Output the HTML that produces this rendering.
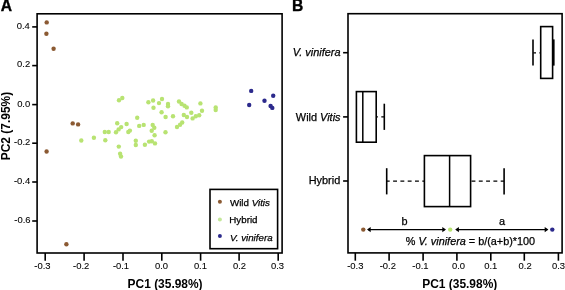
<!DOCTYPE html>
<html><head><meta charset="utf-8"><style>
html,body{margin:0;padding:0;background:#fff;}
svg{display:block;will-change:transform;}
text{font-family:'Liberation Sans', sans-serif;fill:#000;stroke:#000;stroke-width:0.25px;}
text.tk{stroke-width:0.08px;}
text[font-weight="bold"]{stroke-width:0;}
text.pl{stroke-width:0.35px;}
</style></head><body>
<svg width="565" height="290" viewBox="0 0 565 290">
<rect width="565" height="290" fill="#fff"/>
<rect x="37.1" y="13.8" width="245.0" height="239.2" fill="none" stroke="#000" stroke-width="1.6"/>
<line x1="32.2" y1="26.9" x2="37.1" y2="26.9" stroke="#000" stroke-width="1.6" />
<line x1="32.2" y1="65.6" x2="37.1" y2="65.6" stroke="#000" stroke-width="1.6" />
<line x1="32.2" y1="104.6" x2="37.1" y2="104.6" stroke="#000" stroke-width="1.6" />
<line x1="32.2" y1="143.2" x2="37.1" y2="143.2" stroke="#000" stroke-width="1.6" />
<line x1="32.2" y1="182.0" x2="37.1" y2="182.0" stroke="#000" stroke-width="1.6" />
<line x1="32.2" y1="221.0" x2="37.1" y2="221.0" stroke="#000" stroke-width="1.6" />
<line x1="45.2" y1="253.0" x2="45.2" y2="260.7" stroke="#000" stroke-width="1.6" />
<line x1="84.1" y1="253.0" x2="84.1" y2="260.7" stroke="#000" stroke-width="1.6" />
<line x1="123.0" y1="253.0" x2="123.0" y2="260.7" stroke="#000" stroke-width="1.6" />
<line x1="161.8" y1="253.0" x2="161.8" y2="260.7" stroke="#000" stroke-width="1.6" />
<line x1="200.6" y1="253.0" x2="200.6" y2="260.7" stroke="#000" stroke-width="1.6" />
<line x1="239.1" y1="253.0" x2="239.1" y2="260.7" stroke="#000" stroke-width="1.6" />
<line x1="278.2" y1="253.0" x2="278.2" y2="260.7" stroke="#000" stroke-width="1.6" />
<circle cx="119.0" cy="100.2" r="2.2" fill="#b8e372"/>
<circle cx="122.3" cy="98.0" r="2.2" fill="#b8e372"/>
<circle cx="148.4" cy="102.3" r="2.2" fill="#b8e372"/>
<circle cx="153.1" cy="100.5" r="2.2" fill="#b8e372"/>
<circle cx="159.0" cy="103.1" r="2.2" fill="#b8e372"/>
<circle cx="162.0" cy="99.0" r="2.2" fill="#b8e372"/>
<circle cx="168.0" cy="103.9" r="2.2" fill="#b8e372"/>
<circle cx="168.0" cy="106.3" r="2.2" fill="#b8e372"/>
<circle cx="153.5" cy="107.8" r="2.2" fill="#b8e372"/>
<circle cx="161.6" cy="112.3" r="2.2" fill="#b8e372"/>
<circle cx="179.0" cy="101.5" r="2.2" fill="#b8e372"/>
<circle cx="181.6" cy="104.0" r="2.2" fill="#b8e372"/>
<circle cx="184.5" cy="105.8" r="2.2" fill="#b8e372"/>
<circle cx="186.8" cy="107.4" r="2.2" fill="#b8e372"/>
<circle cx="200.4" cy="103.4" r="2.2" fill="#b8e372"/>
<circle cx="202.0" cy="110.7" r="2.2" fill="#b8e372"/>
<circle cx="215.7" cy="107.4" r="2.2" fill="#b8e372"/>
<circle cx="215.7" cy="110.0" r="2.2" fill="#b8e372"/>
<circle cx="173.0" cy="116.2" r="2.2" fill="#b8e372"/>
<circle cx="183.8" cy="115.0" r="2.2" fill="#b8e372"/>
<circle cx="187.0" cy="117.0" r="2.2" fill="#b8e372"/>
<circle cx="191.3" cy="112.8" r="2.2" fill="#b8e372"/>
<circle cx="192.6" cy="118.4" r="2.2" fill="#b8e372"/>
<circle cx="195.8" cy="116.3" r="2.2" fill="#b8e372"/>
<circle cx="199.2" cy="115.2" r="2.2" fill="#b8e372"/>
<circle cx="137.2" cy="117.8" r="2.2" fill="#b8e372"/>
<circle cx="165.6" cy="117.0" r="2.2" fill="#b8e372"/>
<circle cx="117.2" cy="123.3" r="2.2" fill="#b8e372"/>
<circle cx="126.6" cy="124.0" r="2.2" fill="#b8e372"/>
<circle cx="121.2" cy="127.1" r="2.2" fill="#b8e372"/>
<circle cx="118.6" cy="129.4" r="2.2" fill="#b8e372"/>
<circle cx="139.2" cy="125.9" r="2.2" fill="#b8e372"/>
<circle cx="143.7" cy="124.9" r="2.2" fill="#b8e372"/>
<circle cx="152.7" cy="124.9" r="2.2" fill="#b8e372"/>
<circle cx="154.3" cy="127.8" r="2.2" fill="#b8e372"/>
<circle cx="151.7" cy="130.7" r="2.2" fill="#b8e372"/>
<circle cx="154.6" cy="135.2" r="2.2" fill="#b8e372"/>
<circle cx="165.5" cy="132.2" r="2.2" fill="#b8e372"/>
<circle cx="116.0" cy="132.2" r="2.2" fill="#b8e372"/>
<circle cx="128.3" cy="132.0" r="2.2" fill="#b8e372"/>
<circle cx="129.9" cy="130.6" r="2.2" fill="#b8e372"/>
<circle cx="177.0" cy="127.0" r="2.2" fill="#b8e372"/>
<circle cx="180.1" cy="124.8" r="2.2" fill="#b8e372"/>
<circle cx="182.2" cy="122.5" r="2.2" fill="#b8e372"/>
<circle cx="104.8" cy="132.0" r="2.2" fill="#b8e372"/>
<circle cx="108.7" cy="132.0" r="2.2" fill="#b8e372"/>
<circle cx="81.3" cy="140.5" r="2.2" fill="#b8e372"/>
<circle cx="93.9" cy="137.8" r="2.2" fill="#b8e372"/>
<circle cx="105.3" cy="140.2" r="2.2" fill="#b8e372"/>
<circle cx="118.8" cy="146.6" r="2.2" fill="#b8e372"/>
<circle cx="120.1" cy="153.8" r="2.2" fill="#b8e372"/>
<circle cx="121.0" cy="156.5" r="2.2" fill="#b8e372"/>
<circle cx="135.8" cy="140.7" r="2.2" fill="#b8e372"/>
<circle cx="135.8" cy="145.0" r="2.2" fill="#b8e372"/>
<circle cx="144.9" cy="144.8" r="2.2" fill="#b8e372"/>
<circle cx="149.1" cy="141.6" r="2.2" fill="#b8e372"/>
<circle cx="151.8" cy="141.3" r="2.2" fill="#b8e372"/>
<circle cx="155.0" cy="143.4" r="2.2" fill="#b8e372"/>
<circle cx="46.7" cy="22.4" r="2.2" fill="#8b5a33"/>
<circle cx="46.4" cy="33.8" r="2.2" fill="#8b5a33"/>
<circle cx="53.6" cy="48.8" r="2.2" fill="#8b5a33"/>
<circle cx="72.7" cy="123.4" r="2.2" fill="#8b5a33"/>
<circle cx="78.1" cy="124.4" r="2.2" fill="#8b5a33"/>
<circle cx="46.6" cy="151.5" r="2.2" fill="#8b5a33"/>
<circle cx="66.4" cy="244.2" r="2.2" fill="#8b5a33"/>
<circle cx="251.2" cy="90.9" r="2.2" fill="#2c2a8c"/>
<circle cx="273.2" cy="95.7" r="2.2" fill="#2c2a8c"/>
<circle cx="264.5" cy="100.7" r="2.2" fill="#2c2a8c"/>
<circle cx="249.2" cy="105.0" r="2.2" fill="#2c2a8c"/>
<circle cx="270.6" cy="106.0" r="2.2" fill="#2c2a8c"/>
<circle cx="272.3" cy="107.9" r="2.2" fill="#2c2a8c"/>
<rect x="210.0" y="189.4" width="67.6" height="59.3" fill="#fff" stroke="#000" stroke-width="1.6"/>
<circle cx="219.9" cy="201.8" r="2.0" fill="#8b5a33"/>
<circle cx="219.9" cy="219.4" r="2.0" fill="#c4e79a"/>
<circle cx="219.9" cy="235.9" r="2.0" fill="#2c2a8c"/>
<rect x="348.0" y="13.7" width="214.1" height="239.2" fill="none" stroke="#000" stroke-width="1.6"/>
<line x1="355.3" y1="252.9" x2="355.3" y2="260.7" stroke="#000" stroke-width="1.6" />
<line x1="389.1" y1="252.9" x2="389.1" y2="260.7" stroke="#000" stroke-width="1.6" />
<line x1="423.1" y1="252.9" x2="423.1" y2="260.7" stroke="#000" stroke-width="1.6" />
<line x1="456.9" y1="252.9" x2="456.9" y2="260.7" stroke="#000" stroke-width="1.6" />
<line x1="490.8" y1="252.9" x2="490.8" y2="260.7" stroke="#000" stroke-width="1.6" />
<line x1="524.3" y1="252.9" x2="524.3" y2="260.7" stroke="#000" stroke-width="1.6" />
<line x1="558.4" y1="252.9" x2="558.4" y2="260.7" stroke="#000" stroke-width="1.6" />
<line x1="343.1" y1="52.7" x2="348.0" y2="52.7" stroke="#000" stroke-width="1.6" />
<line x1="343.1" y1="116.9" x2="348.0" y2="116.9" stroke="#000" stroke-width="1.6" />
<line x1="343.1" y1="181.0" x2="348.0" y2="181.0" stroke="#000" stroke-width="1.6" />
<line x1="533.3" y1="52.8" x2="540.4" y2="52.8" stroke="#000" stroke-width="1.3" stroke-dasharray="2.7,3.4"/>
<line x1="533.0" y1="39.6" x2="533.0" y2="65.4" stroke="#000" stroke-width="1.6" />
<rect x="540.7" y="26.6" width="11.9" height="51.8" fill="none" stroke="#000" stroke-width="1.6"/>
<rect x="552.0" y="39.4" width="2.6" height="26.2" fill="#000"/>
<rect x="356.4" y="91.6" width="19.8" height="50.6" fill="none" stroke="#000" stroke-width="1.6"/>
<line x1="362.8" y1="91.6" x2="362.8" y2="142.2" stroke="#000" stroke-width="1.5" />
<line x1="384.3" y1="116.9" x2="376.3" y2="116.9" stroke="#000" stroke-width="1.3" stroke-dasharray="3.0,3.4"/>
<line x1="384.3" y1="103.7" x2="384.3" y2="129.9" stroke="#000" stroke-width="1.6" />
<line x1="386.7" y1="181.2" x2="424.4" y2="181.2" stroke="#000" stroke-width="1.3" stroke-dasharray="3.9,3.4" stroke-dashoffset="0.9"/>
<line x1="504.1" y1="181.2" x2="470.8" y2="181.2" stroke="#000" stroke-width="1.3" stroke-dasharray="3.9,3.4" stroke-dashoffset="0.5"/>
<line x1="386.7" y1="168.2" x2="386.7" y2="194.4" stroke="#000" stroke-width="1.6" />
<line x1="504.1" y1="168.2" x2="504.1" y2="194.4" stroke="#000" stroke-width="1.6" />
<rect x="424.4" y="155.6" width="46.2" height="51.0" fill="none" stroke="#000" stroke-width="1.6"/>
<line x1="449.6" y1="155.6" x2="449.6" y2="206.6" stroke="#000" stroke-width="1.5" />
<circle cx="363.3" cy="229.6" r="2.2" fill="#8b5a33"/>
<circle cx="450.2" cy="229.6" r="2.2" fill="#b8e372"/>
<circle cx="552.3" cy="229.6" r="2.2" fill="#2c2a8c"/>
<line x1="368.0" y1="229.6" x2="445.0" y2="229.6" stroke="#000" stroke-width="1.25" />
<path d="M367.0,229.6 L370.7,227.0 L370.7,232.2 Z" fill="#000"/>
<path d="M446.0,229.6 L442.3,227.0 L442.3,232.2 Z" fill="#000"/>
<line x1="456.2" y1="229.6" x2="547.4" y2="229.6" stroke="#000" stroke-width="1.25" />
<path d="M455.2,229.6 L458.9,227.0 L458.9,232.2 Z" fill="#000"/>
<path d="M548.4,229.6 L544.6999999999999,227.0 L544.6999999999999,232.2 Z" fill="#000"/>
<text id="tA" class="pl" x="6.31" y="11.08" font-size="15.61" font-weight="bold" text-anchor="middle">A</text>
<text id="tB" class="pl" x="297.74" y="11.16" font-size="15.61" font-weight="bold" text-anchor="middle">B</text>
<text id="ax-0.3" class="tk" x="42.38" y="269.39" font-size="9.43" font-weight="normal" text-anchor="middle">-0.3</text>
<text id="ax-0.2" class="tk" x="81.17" y="269.34" font-size="9.43" font-weight="normal" text-anchor="middle">-0.2</text>
<text id="ax-0.1" class="tk" x="121.00" y="269.42" font-size="9.43" font-weight="normal" text-anchor="middle">-0.1</text>
<text id="ax0.0" class="tk" x="161.52" y="269.38" font-size="9.43" font-weight="normal" text-anchor="middle">0.0</text>
<text id="ax0.1" class="tk" x="200.44" y="269.40" font-size="9.43" font-weight="normal" text-anchor="middle">0.1</text>
<text id="ax0.2" class="tk" x="239.46" y="269.36" font-size="9.43" font-weight="normal" text-anchor="middle">0.2</text>
<text id="ax0.3" class="tk" x="277.58" y="269.37" font-size="9.43" font-weight="normal" text-anchor="middle">0.3</text>
<text id="bx-0.3" class="tk" x="355.27" y="269.39" font-size="9.43" font-weight="normal" text-anchor="middle">-0.3</text>
<text id="bx-0.2" class="tk" x="387.82" y="269.36" font-size="9.43" font-weight="normal" text-anchor="middle">-0.2</text>
<text id="bx-0.1" class="tk" x="420.40" y="269.28" font-size="9.43" font-weight="normal" text-anchor="middle">-0.1</text>
<text id="bx0.0" class="tk" x="458.52" y="269.38" font-size="9.43" font-weight="normal" text-anchor="middle">0.0</text>
<text id="bx0.1" class="tk" x="490.82" y="269.39" font-size="9.43" font-weight="normal" text-anchor="middle">0.1</text>
<text id="bx0.2" class="tk" x="525.11" y="269.30" font-size="9.43" font-weight="normal" text-anchor="middle">0.2</text>
<text id="bx0.3" class="tk" x="558.58" y="269.37" font-size="9.43" font-weight="normal" text-anchor="middle">0.3</text>
<text id="ay0.4" class="tk" x="23.29" y="28.95" font-size="9.43" font-weight="normal" text-anchor="middle">0.4</text>
<text id="ay0.2" class="tk" x="23.66" y="67.27" font-size="9.43" font-weight="normal" text-anchor="middle">0.2</text>
<text id="ay0.0" class="tk" x="23.69" y="106.97" font-size="9.43" font-weight="normal" text-anchor="middle">0.0</text>
<text id="ay-0.2" class="tk" x="22.13" y="144.85" font-size="9.43" font-weight="normal" text-anchor="middle">-0.2</text>
<text id="ay-0.4" class="tk" x="22.10" y="184.27" font-size="9.43" font-weight="normal" text-anchor="middle">-0.4</text>
<text id="ay-0.6" class="tk" x="22.48" y="222.91" font-size="9.43" font-weight="normal" text-anchor="middle">-0.6</text>
<text id="tPC1a" x="165.09" y="287.65" font-size="11.95" font-weight="bold" text-anchor="middle">PC1 (35.98%)</text>
<text id="tPC1b" x="459.77" y="287.65" font-size="11.95" font-weight="bold" text-anchor="middle">PC1 (35.98%)</text>
<text id="tPC2" x="0" y="0" font-size="11.95" font-weight="bold" text-anchor="middle" transform="translate(10.40,126.04) rotate(-90)">PC2 (7.95%)</text>
<text id="lg1" x="229.97" y="206.07" font-size="9.75" font-weight="normal" text-anchor="start">Wild <tspan font-style="italic">Vitis</tspan></text>
<text id="lg2" x="229.31" y="223.22" font-size="9.75" font-weight="normal" text-anchor="start">Hybrid</text>
<text id="lg3" x="229.95" y="241.12" font-size="9.75" font-weight="normal" text-anchor="start"><tspan font-style="italic">V. vinifera</tspan></text>
<text id="bl1" x="340.53" y="56.09" font-size="10.92" font-weight="normal" text-anchor="end"><tspan font-style="italic">V. vinifera</tspan></text>
<text id="bl2" x="340.54" y="121.11" font-size="10.92" font-weight="normal" text-anchor="end">Wild <tspan font-style="italic">Vitis</tspan></text>
<text id="bl3" x="340.21" y="183.53" font-size="10.92" font-weight="normal" text-anchor="end">Hybrid</text>
<text id="tb" x="404.47" y="224.69" font-size="10.90" font-weight="normal" text-anchor="middle">b</text>
<text id="ta" x="501.94" y="224.89" font-size="10.90" font-weight="normal" text-anchor="middle">a</text>
<text id="form" x="405.74" y="244.90" font-size="10.85" font-weight="normal" text-anchor="start">% <tspan font-style="italic">V. vinifera</tspan> = b/(a+b)*100</text>
</svg>
</body></html>
